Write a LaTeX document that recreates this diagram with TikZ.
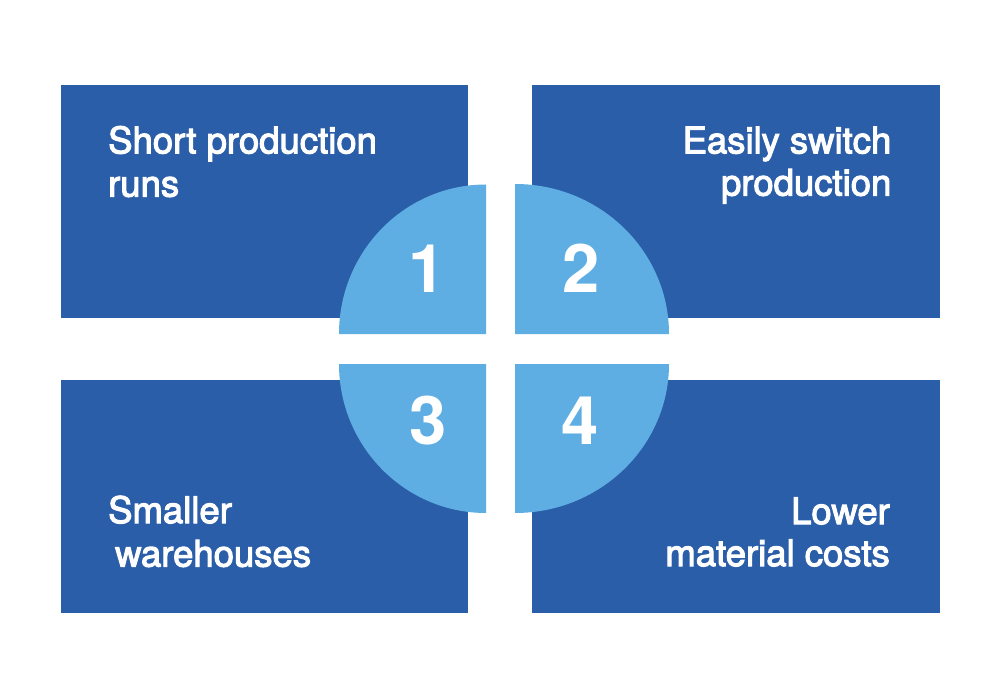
\documentclass[tikz,border=0pt]{standalone}
\usepackage{fontspec}
\setmainfont{TeX Gyre Heros}
\newfontfamily\medfont{TeX Gyre Heros}[FakeBold=3]
\definecolor{darkblue}{HTML}{2A5EA8}
\definecolor{lightblue}{HTML}{5FAEE3}
\begin{document}
\begin{tikzpicture}[x=1pt,y=-1pt,
  panel/.style={fill=darkblue},
  quarter/.style={fill=lightblue},
  label/.style={text=white,inner sep=0pt,font=\medfont\fontsize{36.5}{43}\selectfont},
  num/.style={text=white,inner sep=0pt,anchor=base,font=\bfseries\fontsize{67}{70}\selectfont}]
\useasboundingbox[fill=white] (0,0) rectangle (1000,700);
% panels
\fill[panel] (61,85) rectangle (468,318);
\fill[panel] (532,85) rectangle (940,318);
\fill[panel] (61,380) rectangle (468,613);
\fill[panel] (532,380) rectangle (940,613);
% quarters
\fill[quarter] (486,334) -- (339,334) arc[start angle=180, end angle=270, x radius=147, y radius=149.5] -- cycle;
\fill[quarter] (515,334) -- (669,334) arc[start angle=0, end angle=-90, x radius=154, y radius=150] -- cycle;
\fill[quarter] (486,364) -- (339,364) arc[start angle=180, end angle=90, x radius=147, y radius=149] -- cycle;
\fill[quarter] (515,364) -- (669,364) arc[start angle=0, end angle=90, x radius=154, y radius=149] -- cycle;
% numbers
\node[num] (n1) at (427,293) {1};
\node[num] (n2) at (581.5,293) {2};
\node[num] (n3) at (428,444) {3};
\node[num] (n4) at (580.5,444) {4};
% texts
\node[label,anchor=base west] (t1a) at (108,153.3) {Short production};
\node[label,anchor=base west] (t1b) at (108,196.5) {runs};
\node[label,anchor=base east] (t2a) at (891.5,153.3) {Easily switch};
\node[label,anchor=base east] (t2b) at (891.5,195.5) {production};
\node[label,anchor=base west] (t3a) at (108,523) {Smaller};
\node[label,anchor=base west] (t3b) at (115,566.5) {warehouses};
\node[label,anchor=base east] (t4a) at (890,524) {Lower};
\node[label,anchor=base east] (t4b) at (890,566) {material costs};
\end{tikzpicture}
\end{document}
